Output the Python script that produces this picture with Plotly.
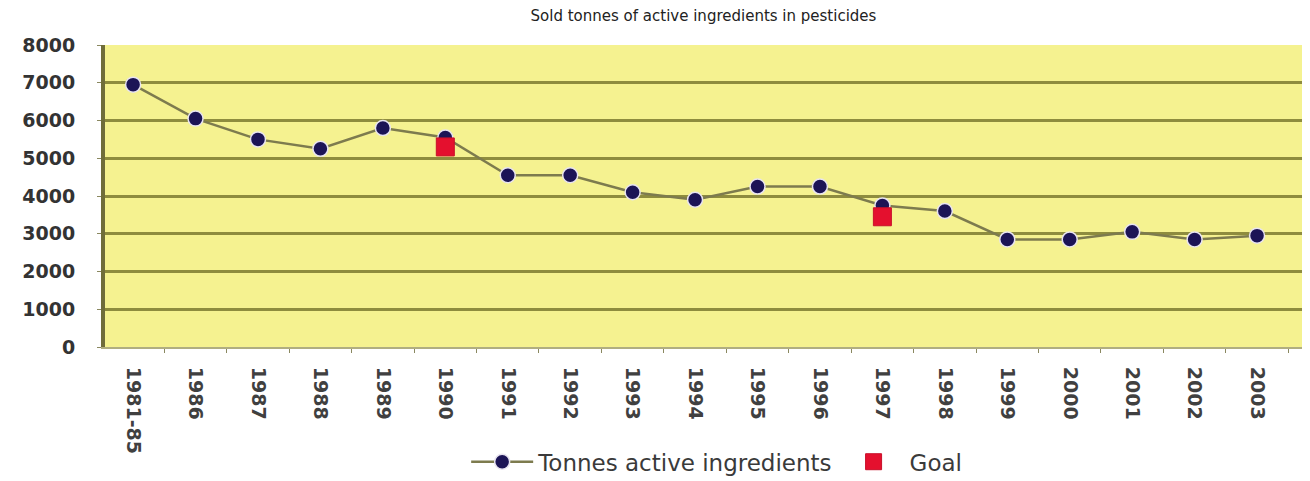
import plotly.graph_objects as go

# categories and values
periods = ["1981-85", "1986", "1987", "1988", "1989", "1990", "1991", "1992", "1993",
           "1994", "1995", "1996", "1997", "1998", "1999", "2000", "2001", "2002", "2003"]
tonnes = [6950, 6050, 5500, 5250, 5800, 5550, 4550, 4550, 4100,
          3900, 4250, 4250, 3750, 3600, 2850, 2850, 3050, 2850, 2950]
goal_periods = ["1990", "1997"]
goal_values = [5300, 3450]

fig = go.Figure()

fig.add_trace(go.Scatter(
    x=periods, y=tonnes, mode="lines+markers", name="Tonnes active ingredients",
    line=dict(color="#7d7b4e", width=2.5),
    marker=dict(color="#1c1456", size=15, line=dict(color="#e8e4f0", width=1.5)),
))
fig.add_trace(go.Scatter(
    x=goal_periods, y=goal_values, mode="markers", name="Goal",
    marker=dict(color="#e4102e", size=18, symbol="square", line=dict(color="#c8102a", width=1)),
))

# page body has an 8px margin, so the figure is a bit smaller than the window
fig.update_layout(
    width=1302, height=473,
    title=dict(text="Sold tonnes of active ingredients in pesticides",
               x=0.5, xanchor="center", xref="paper", y=0.995, yanchor="top", yref="container",
               font=dict(family="DejaVu Sans", size=15, color="#222222")),
    paper_bgcolor="white",
    plot_bgcolor="#f5f290",
    margin=dict(l=97, r=8, t=37, b=134, autoexpand=False),
    showlegend=True,
    legend=dict(orientation="h", x=0.511, xanchor="center", y=-0.38, yanchor="middle",
                font=dict(family="DejaVu Sans", size=23, color="#3a3a3a"),
                bgcolor="rgba(0,0,0,0)", itemwidth=62),
    xaxis=dict(
        type="category", range=[-0.45, 18.72], tickangle=90, automargin=False,
        tickfont=dict(family="DejaVu Sans", size=19, color="#404040", weight="bold"),
        showgrid=False, showline=True, linecolor="#b0ae80", linewidth=2,
        ticks="outside", ticklen=4, tickcolor="#8a8860", tickson="boundaries",
        ticklabelstandoff=14,
    ),
    yaxis=dict(
        range=[0, 8000], dtick=1000, automargin=False,
        tickfont=dict(family="DejaVu Sans", size=19, color="#333333", weight="bold"),
        showgrid=True, gridcolor="#8e8c3e", gridwidth=3,
        showline=True, linecolor="#6f6d3a", linewidth=4,
        ticks="outside", ticklen=4, tickcolor="#8a8860",
        zeroline=False, ticklabelstandoff=18,
    ),
)

fig.write_html("out.html")
